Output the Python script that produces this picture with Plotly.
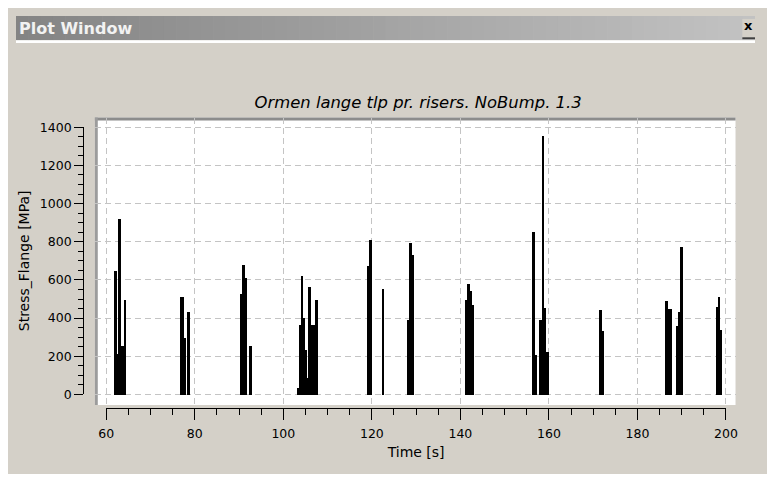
import plotly.graph_objects as go

# ---------------- data ----------------
seg_start = [61.61, 62.33, 62.64, 63.36, 63.96,
             76.71, 77.44, 78.17,
             90.26, 90.79, 91.23, 92.11,
             103.10, 103.55, 103.98, 104.42, 104.86, 105.30, 105.74, 106.18, 106.62, 107.13,
             118.85, 119.38,
             122.15,
             128.02, 128.53, 128.97,
             141.22, 141.66, 142.10, 142.54,
             156.24, 156.83, 157.86, 158.30, 158.81, 159.25,
             171.35, 171.94,
             186.30, 186.90, 188.57, 189.23, 189.67,
             197.67, 198.17, 198.68]
seg_end = [62.33, 62.64, 63.36, 63.96, 64.53,
           77.44, 78.03, 78.91,
           90.79, 91.23, 91.73, 92.84,
           103.55, 103.98, 104.42, 104.86, 105.30, 105.74, 106.18, 106.62, 107.13, 107.86,
           119.38, 119.95,
           122.74,
           128.53, 128.97, 129.50,
           141.66, 142.10, 142.54, 143.04,
           156.83, 157.27, 158.30, 158.81, 159.25, 159.98,
           171.94, 172.38,
           186.90, 187.78, 189.23, 189.67, 190.33,
           198.17, 198.68, 199.12]
stress = [648, 215, 920, 258, 495,
          513, 300, 436,
          530, 682, 614, 258,
          37, 368, 623, 402, 233, 88, 564, 368, 368, 495,
          674, 810,
          555,
          394, 793, 733,
          495, 580, 546, 470,
          852, 207, 394, 1356, 453, 224,
          443, 333,
          494, 452, 359, 435, 774,
          461, 512, 342]

x_ticks = [60, 80, 100, 120, 140, 160, 180, 200]
y_ticks = [0, 200, 400, 600, 800, 1000, 1200, 1400]

title_text = "Ormen lange tlp pr. risers. NoBump. 1.3"
x_title = "Time [s]"
y_title = "Stress_Flange [MPa]"
window_title = "Plot Window"

# ---------------- geometry helpers ----------------
# the page keeps its default 8px body margin, so the figure is 759 x 466 at (8, 8)
OFF = 8
WE, HE = 775 - 2 * OFF, 482 - 2 * OFF
def fx(px):
    return (px - OFF) / WE
def fy(py):
    return 1 - (py - OFF) / HE

mid = [(a + b) / 2 for a, b in zip(seg_start, seg_end)]
wid = [b - a for a, b in zip(seg_start, seg_end)]

fig = go.Figure()
fig.add_trace(go.Bar(x=mid, y=stress, width=wid, base=0,
                     marker=dict(color="black", line=dict(width=0)),
                     showlegend=False, hoverinfo="x+y"))
# invisible trace so the tick axes are drawn
fig.add_trace(go.Scatter(x=[60, 200], y=[0, 1400], xaxis="x2", yaxis="y2",
                         mode="markers", marker=dict(opacity=0),
                         showlegend=False, hoverinfo="skip"))

FONT = "DejaVu Sans"
GRID = "#c4c4c4"

# data/grid axes (span the white area)
px_per_s = (737.2 - 100.7) / 140.0
x_lo = 60 - (100.7 - 89) / px_per_s
x_hi = 200 + (747 - 737.2) / px_per_s
px_per_u = (399 - 123) / 1400.0
y_lo = -(410 - 399) / px_per_u
y_hi = 1400 + (123 - 113) / px_per_u

fig.update_layout(
    width=WE, height=HE, autosize=False,
    margin=dict(l=0, r=0, t=0, b=0, pad=0),
    paper_bgcolor="#d4d0c8", plot_bgcolor="rgba(0,0,0,0)",
    bargap=0,
    xaxis=dict(domain=[fx(89), fx(747)], range=[x_lo, x_hi], tickvals=x_ticks,
               showticklabels=False, ticks="", showgrid=True, gridcolor=GRID,
               griddash="6px,4px", gridwidth=1, zeroline=False, showline=False,
               fixedrange=True),
    yaxis=dict(domain=[fy(410), fy(113)], range=[y_lo, y_hi], tickvals=y_ticks,
               showticklabels=False, ticks="", showgrid=True, gridcolor=GRID,
               griddash="6px,4px", gridwidth=1, zeroline=False, showline=False,
               fixedrange=True),
    xaxis2=dict(domain=[fx(100.7), fx(737.2)], range=[60, 200], anchor="free",
                position=fy(413), side="bottom", showline=True, linecolor="black",
                linewidth=1, ticks="outside", ticklen=11, tickwidth=1, tickcolor="black",
                tickvals=x_ticks, showgrid=False, zeroline=False, ticklabelstandoff=3,
                minor=dict(dtick=5, tick0=60, ticks="outside", ticklen=6,
                           tickcolor="black", showgrid=False),
                tickfont=dict(family=FONT, size=12.5, color="black"),
                title=dict(text=x_title, font=dict(family=FONT, size=14, color="black"),
                           standoff=7),
                fixedrange=True),
    yaxis2=dict(domain=[fy(399), fy(123)], range=[0, 1400], anchor="free",
                position=fx(77), side="left", showline=True, linecolor="black",
                linewidth=1, ticks="outside", ticklen=9, tickwidth=1, tickcolor="black",
                tickvals=y_ticks, showgrid=False, zeroline=False,
                minor=dict(dtick=50, tick0=0, ticks="outside", ticklen=5,
                           tickcolor="black", showgrid=False),
                tickfont=dict(family=FONT, size=12.5, color="black"),
                title=dict(text=y_title, font=dict(family=FONT, size=14, color="black"),
                           standoff=5),
                fixedrange=True),
    title=dict(text=title_text, x=fx(421), y=fy(97), xref="paper", yref="paper",
               xanchor="center", yanchor="middle",
               font=dict(family=FONT, size=16.4, style="italic", color="black")),
)

shapes = []
# title bar gradient
n = 60
x_start, x_end = OFF, 775 - OFF
for i in range(n):
    t = i / (n - 1)
    c = int(round(0x84 + (0xc2 - 0x84) * t))
    col = f"rgb({c},{c},{c})"
    xa = x_start + (x_end - x_start) * i / n
    xb = x_start + (x_end - x_start) * (i + 1) / n + 0.6
    shapes.append(dict(type="rect", xref="paper", yref="paper", x0=fx(xa), x1=min(fx(xb), 1),
                       y0=fy(33), y1=1, fillcolor=col, line_width=0, layer="below"))
# white separator line under the title bar
shapes.append(dict(type="rect", xref="paper", yref="paper", x0=0, x1=1,
                   y0=fy(36), y1=fy(33), fillcolor="white", line_width=0, layer="below"))
# close button
shapes.append(dict(type="rect", xref="paper", yref="paper", x0=fx(754), x1=1,
                   y0=fy(31), y1=fy(11), fillcolor="#d4d0c8", line_width=0, layer="below"))
shapes.append(dict(type="rect", xref="paper", yref="paper", x0=fx(754), x1=1,
                   y0=fy(32), y1=fy(30), fillcolor="#404040", line_width=0, layer="below"))
# plot white area with sunken border
shapes.append(dict(type="rect", xref="paper", yref="paper", x0=fx(89), x1=fx(747),
                   y0=fy(410), y1=fy(113), fillcolor="white", line_width=0, layer="below"))
shapes.append(dict(type="rect", xref="paper", yref="paper", x0=fx(89), x1=fx(747),
                   y0=fy(116), y1=fy(113), fillcolor="#8c8c8c", line_width=0, layer="below"))
shapes.append(dict(type="rect", xref="paper", yref="paper", x0=fx(89), x1=fx(92),
                   y0=fy(410), y1=fy(113), fillcolor="#9c9c9c", line_width=0, layer="below"))
fig.update_layout(shapes=shapes)

fig.add_annotation(text=window_title, xref="paper", yref="paper", x=fx(9), y=fy(20.5),
                   xanchor="left", yanchor="middle", showarrow=False,
                   font=dict(family=FONT, size=16, weight="bold", color="#f2f2f2"))
fig.add_annotation(text="x", xref="paper", yref="paper", x=fx(760.5), y=fy(18),
                   xanchor="center", yanchor="middle", showarrow=False,
                   font=dict(family=FONT, size=13, weight="bold", color="black"))

fig.write_html("out.html", config={"displayModeBar": False})
